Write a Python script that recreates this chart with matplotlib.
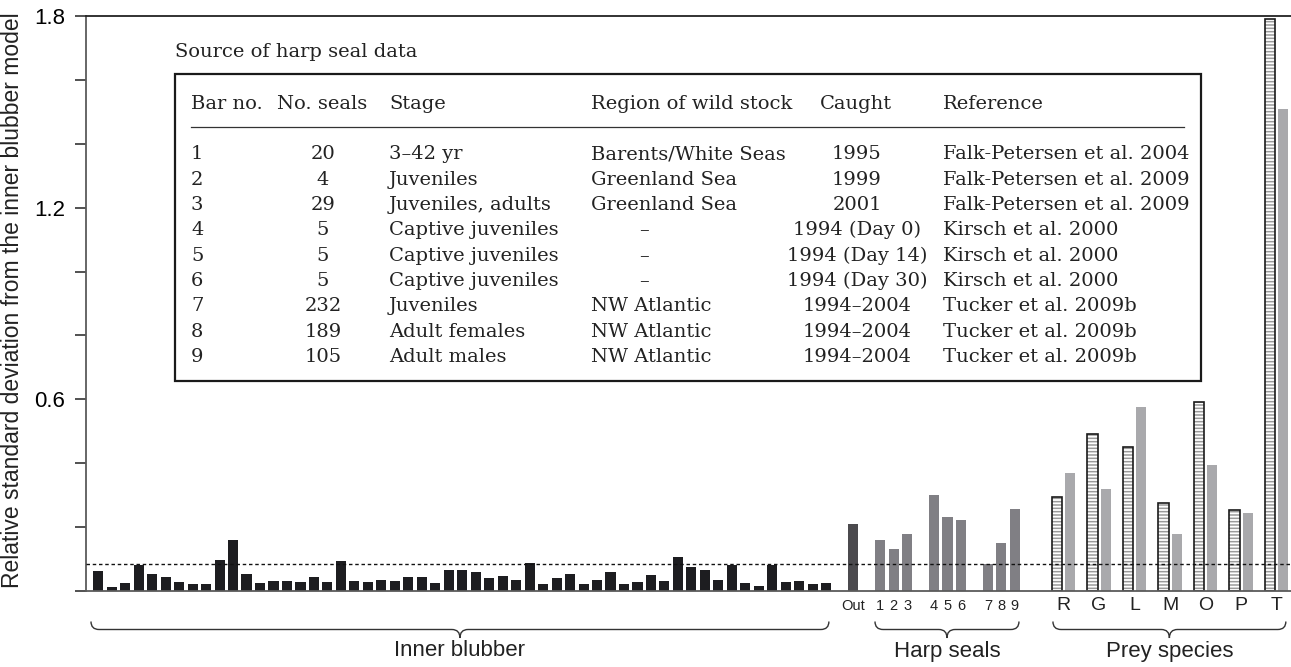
import numpy as np
import matplotlib.pyplot as plt
from matplotlib.path import Path
from matplotlib.patches import PathPatch, Rectangle
from matplotlib.lines import Line2D
from matplotlib.transforms import blended_transform_factory

plt.rcParams['font.family'] = ['Liberation Sans', 'DejaVu Sans']
plt.rcParams['hatch.linewidth'] = 1.1

# bar heights
inner = [0.062, 0.011, 0.024, 0.081, 0.052, 0.044, 0.027, 0.021, 0.021, 0.096,
         0.161, 0.052, 0.024, 0.030, 0.030, 0.027, 0.043, 0.027, 0.094, 0.030,
         0.027, 0.036, 0.030, 0.043, 0.043, 0.024, 0.065, 0.065, 0.059, 0.040,
         0.046, 0.036, 0.089, 0.021, 0.040, 0.052, 0.021, 0.036, 0.059, 0.021,
         0.027, 0.051, 0.030, 0.105, 0.074, 0.065, 0.033, 0.082, 0.024, 0.015,
         0.082, 0.027, 0.030, 0.021, 0.024]
outer = 0.211
harp_labels = ['1', '2', '3', '4', '5', '6', '7', '8', '9']
harp = [0.161, 0.130, 0.177, 0.302, 0.233, 0.221, 0.083, 0.149, 0.258]
prey_labels = ['R', 'G', 'L', 'M', 'O', 'P', 'T']
prey_hatched = [0.295, 0.492, 0.452, 0.274, 0.592, 0.255, 1.79]
prey_grey = [0.368, 0.318, 0.576, 0.180, 0.394, 0.243, 1.509]
cutoff = 0.084

# table in the inset
tab_cols = ['Bar no.', 'No. seals', 'Stage', 'Region of wild stock', 'Caught', 'Reference']
bar_no = ['1', '2', '3', '4', '5', '6', '7', '8', '9']
n_seals = ['20', '4', '29', '5', '5', '5', '232', '189', '105']
stage = ['3–42 yr', 'Juveniles', 'Juveniles, adults', 'Captive juveniles',
         'Captive juveniles', 'Captive juveniles', 'Juveniles', 'Adult females', 'Adult males']
region = ['Barents/White Seas', 'Greenland Sea', 'Greenland Sea', '–', '–', '–',
          'NW Atlantic', 'NW Atlantic', 'NW Atlantic']
caught = ['1995', '1999', '2001', '1994 (Day 0)', '1994 (Day 14)', '1994 (Day 30)',
          '1994–2004', '1994–2004', '1994–2004']
refs = ['Falk-Petersen et al. 2004', 'Falk-Petersen et al. 2009', 'Falk-Petersen et al. 2009',
        'Kirsch et al. 2000', 'Kirsch et al. 2000', 'Kirsch et al. 2000',
        'Tucker et al. 2009b', 'Tucker et al. 2009b', 'Tucker et al. 2009b']

W, H = 1291, 667
fig = plt.figure(figsize=(W / 100, H / 100), dpi=100)
ax = fig.add_axes([86 / W, 1 - 591 / H, (W - 86) / W, 575 / H])


def fx(x):
    return x / W


def fy(y):
    return 1 - y / H


# x layout (slot units)
x_inner = np.arange(len(inner))
x_out = len(inner) + 1
x_harp = np.array([x_out + 2 + 4 * (i // 3) + i % 3 for i in range(len(harp))])
x_ph = x_harp[-1] + 3.12 + 2.633 * np.arange(len(prey_labels))
x_pg = x_ph + 0.98

bw = 0.75
ax.bar(x_inner, inner, bw, color='#1d1d20')
ax.bar(x_out, outer, bw, color='#4b4a4e')
ax.bar(x_harp, harp, bw, color='#807f84')
ax.bar(x_ph, prey_hatched, bw, color='white', edgecolor='#9a9a9a', hatch='-----', linewidth=0)
ax.bar(x_ph, prey_hatched, bw, fill=False, edgecolor='#1a1a1a', linewidth=1.2)
ax.bar(x_pg, prey_grey, bw, color='#a9a9ac')
ax.axhline(cutoff, color='#111111', lw=1, ls=(0, (2.5, 2)), zorder=3)

ax.set_xlim(-0.91, 88.48)
ax.set_ylim(0, 1.8)
ax.set_xticks([])
ax.set_yticks([0, 0.6, 1.2, 1.8])
ax.set_yticklabels(['', '0.6', '1.2', '1.8'])
ax.set_yticks([0.2, 0.4, 0.8, 1.0, 1.4, 1.6], minor=True)
ax.tick_params(axis='y', which='both', direction='out', length=8, width=1.2,
               color='#333333', labelsize=16, pad=7)
ax.spines['right'].set_visible(False)
ax.spines['left'].set_color('#5a5a5a')
ax.spines['bottom'].set_color('#5a5a5a')
ax.spines['top'].set_color('#222222')
for s in ['left', 'bottom', 'top']:
    ax.spines[s].set_linewidth(1.3)

fig.text(fx(13), fy(300), 'Relative standard deviation from the inner blubber model',
         rotation=90, ha='center', va='center', fontsize=16.5, color='#222222')

# category labels under the bars
tr = blended_transform_factory(ax.transData, fig.transFigure)
ax.text(x_out, fy(606), 'Out', transform=tr, ha='center', va='center', fontsize=10.5, color='#222222')
for x, lab in zip(x_harp, harp_labels):
    ax.text(x, fy(606), lab, transform=tr, ha='center', va='center', fontsize=10.5, color='#222222')
for x, lab in zip((x_ph + x_pg) / 2, prey_labels):
    ax.text(x, fy(606), lab, transform=tr, ha='center', va='center', fontsize=14, color='#222222')


def brace(x0, x1, label):
    yt, yl, ytip = fy(621.5), fy(629.5), fy(638)
    xm = (x0 + x1) / 2
    d = 0.6
    verts = [(x0, yt), (x0, yl), (x0 + d, yl), (xm - d, yl), (xm, yl), (xm, ytip),
             (xm, yl), (xm + d, yl), (x1 - d, yl), (x1, yl), (x1, yt)]
    codes = [Path.MOVETO, Path.CURVE3, Path.CURVE3, Path.LINETO, Path.CURVE3, Path.CURVE3,
             Path.CURVE3, Path.CURVE3, Path.LINETO, Path.CURVE3, Path.CURVE3]
    ax.add_patch(PathPatch(Path(verts, codes), transform=tr, fill=False,
                           edgecolor='#333333', lw=1.0, clip_on=False))
    ax.text(xm, fy(651), label, transform=tr, ha='center', va='center', fontsize=16, color='#222222')


brace(x_inner[0] - 0.54, x_inner[-1] + 0.2, 'Inner blubber')
brace(x_harp[0] - 0.38, x_harp[-1] + 0.3, 'Harp seals')
brace(x_ph[0] - 0.3, x_pg[-1] + 0.2, 'Prey species')

# inset table
serif = dict(family='DejaVu Serif', fontsize=14, color='#222222', va='baseline')
fig.text(fx(175), fy(57), 'Source of harp seal data', **serif)
fig.add_artist(Rectangle((fx(175), fy(381)), (1201 - 175) / W, (381 - 74) / H,
                         transform=fig.transFigure, fill=False, edgecolor='#1a1a1a', lw=1.6))
fig.add_artist(Line2D([fx(191), fx(1184)], [fy(127), fy(127)], transform=fig.transFigure,
                      color='#333333', lw=0.9))
head_x = [191, 277, 389, 591, 820, 943]
for x, lab in zip(head_x, tab_cols):
    fig.text(fx(x), fy(109), lab, ha='left', **serif)

for i in range(len(bar_no)):
    yb = fy(159.5 + i * 25.3)
    fig.text(fx(191), yb, bar_no[i], ha='left', **serif)
    fig.text(fx(323), yb, n_seals[i], ha='center', **serif)
    fig.text(fx(389), yb, stage[i], ha='left', **serif)
    if region[i] == '–':
        fig.text(fx(644), yb, region[i], ha='center', **serif)
    else:
        fig.text(fx(591), yb, region[i], ha='left', **serif)
    fig.text(fx(857), yb, caught[i], ha='center', **serif)
    fig.text(fx(943), yb, refs[i], ha='left', **serif)

fig.savefig('out.png', dpi=100)
